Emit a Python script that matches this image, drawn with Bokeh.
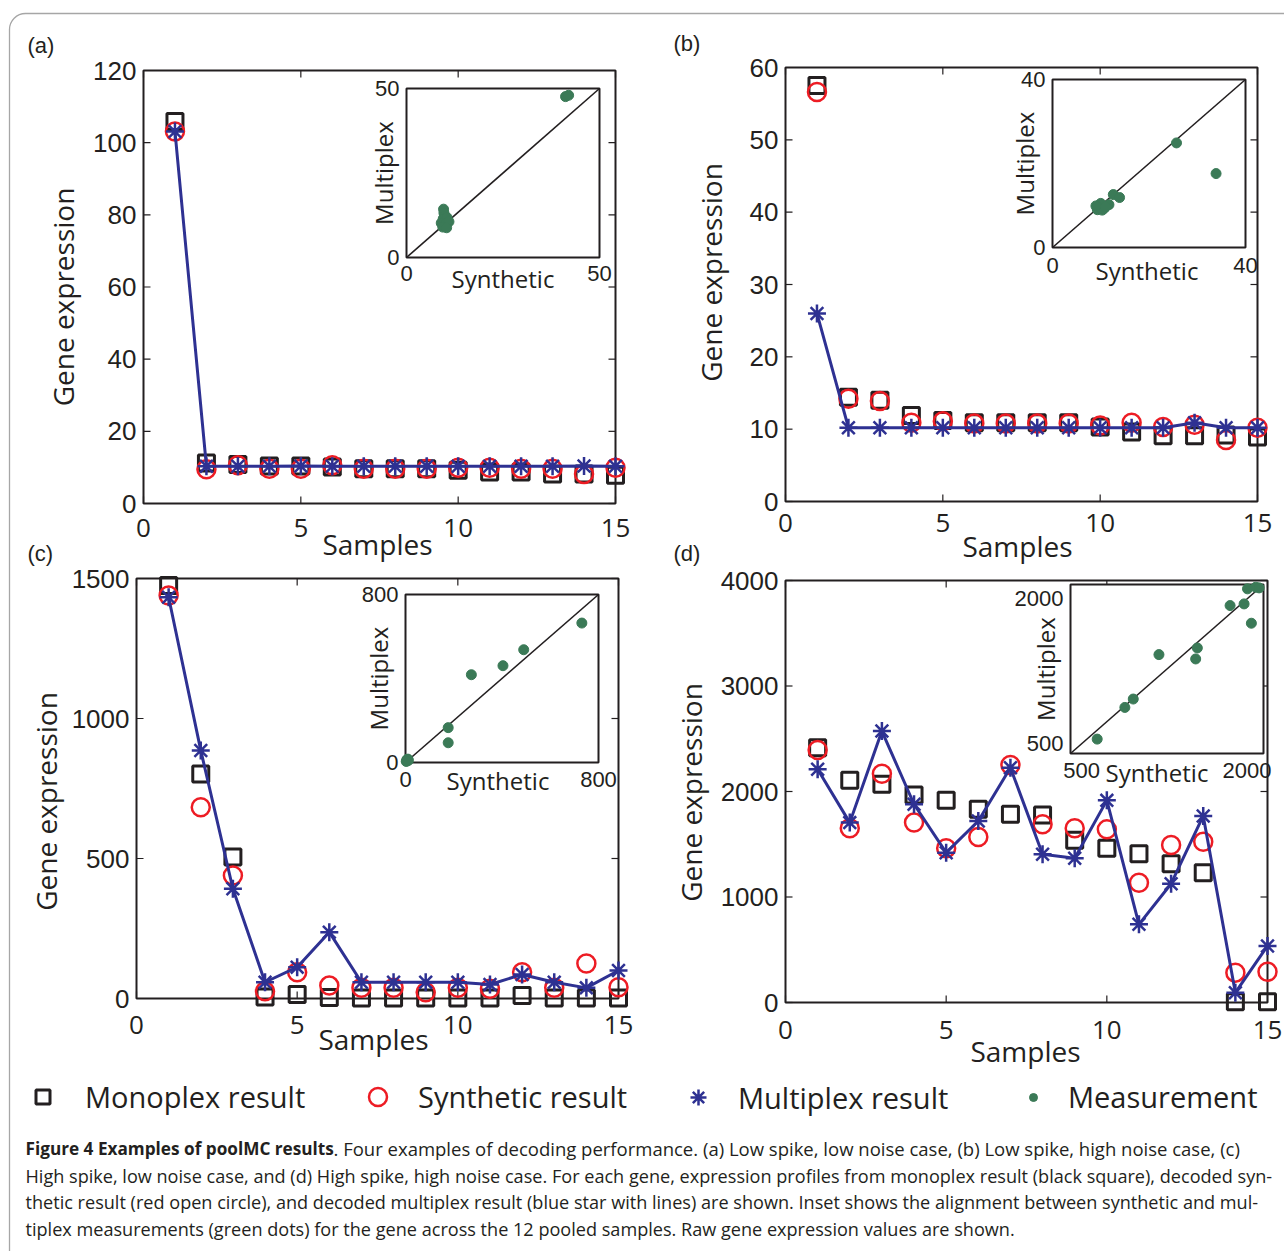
import numpy as np
from bokeh.plotting import figure
from bokeh.models import Range1d, FixedTicker, LinearAxis, Legend, LegendItem
from bokeh.core.properties import value
from bokeh.embed import file_html
from bokeh.resources import INLINE

# ---------------- data ----------------
samples = list(range(1, 16))
x_ticks = [0, 5, 10, 15]
x_lim = [0, 15]

# (a) low spike, low noise
mono_a = [105.9, 11.2, 10.8, 10.4, 10.4, 10.1, 9.6, 9.6, 9.6, 9.2, 8.7, 8.7, 8.2, 8.2, 7.8]
synth_a = [103.1, 9.5, 10.6, 9.6, 9.6, 10.6, 9.6, 9.6, 9.6, 9.9, 9.9, 9.6, 9.6, 8.2, 9.9]
multi_a = [103.1, 10.3, 10.3, 10.3, 10.4, 10.3, 10.3, 10.3, 10.3, 10.3, 10.3, 10.3, 10.3, 10.4, 10.3]
y_lim_a = [0, 120]
y_ticks_a = [0, 20, 40, 60, 80, 100, 120]
ins_a_syn = [9.6, 9.7, 9.8, 9.5, 10.5, 9.0, 10.2, 11.0, 9.4, 10.4, 41.2, 42.0]
ins_a_mul = [14.3, 13.2, 12.2, 11.4, 11.8, 10.2, 10.0, 10.6, 9.0, 8.8, 47.6, 48.0]
ins_a_lim = [0, 50]
ins_a_ticks = [0, 50]

# (b) low spike, high noise
mono_b = [57.5, 14.4, 14.0, 11.9, 11.2, 10.9, 10.9, 10.9, 10.9, 10.3, 9.6, 9.1, 9.1, 9.2, 8.9]
synth_b = [56.6, 14.2, 13.9, 10.9, 11.1, 10.8, 10.8, 10.8, 10.8, 10.5, 10.9, 10.3, 10.6, 8.5, 10.2]
multi_b = [26.0, 10.2, 10.2, 10.2, 10.2, 10.2, 10.2, 10.2, 10.2, 10.2, 10.2, 10.2, 10.9, 10.2, 10.2]
y_lim_b = [0, 60]
y_ticks_b = [0, 10, 20, 30, 40, 50, 60]
ins_b_syn = [25.7, 33.9, 12.6, 13.9, 9.7, 10.0, 11.7, 10.7, 9.3, 10.3, 9.0, 11.0]
ins_b_mul = [24.9, 17.6, 12.6, 11.9, 9.7, 10.5, 10.2, 9.3, 9.0, 8.9, 9.9, 9.7]
ins_b_lim = [0, 40]
ins_b_ticks = [0, 40]

# (c) high spike, low noise
mono_c = [1475, 802, 505, 5, 14, 4, 2, 2, 2, 2, 2, 11, 2, 2, 2]
synth_c = [1439, 683, 439, 26, 94, 46, 38, 38, 22, 38, 35, 94, 38, 125, 40]
multi_c = [1433, 886, 392, 58, 112, 237, 58, 58, 58, 58, 50, 86, 58, 38, 100]
y_lim_c = [0, 1500]
y_ticks_c = [0, 500, 1000, 1500]
ins_c_syn = [10, 5, 8, 12, 6, 177, 177, 273, 404, 490, 731, 3]
ins_c_mul = [16, 8, 12, 10, 14, 166, 94, 418, 461, 537, 664, 5]
ins_c_lim = [0, 800]
ins_c_ticks = [0, 800]

# (d) high spike, high noise
mono_d = [2415, 2106, 2068, 1967, 1916, 1831, 1784, 1777, 1537, 1462, 1411, 1316, 1231, 8, 8]
synth_d = [2393, 1651, 2169, 1705, 1462, 1569, 2251, 1689, 1651, 1641, 1136, 1493, 1524, 283, 292]
multi_d = [2210, 1705, 2573, 1879, 1420, 1720, 2226, 1405, 1367, 1916, 741, 1126, 1768, 93, 536]
y_lim_d = [0, 4000]
y_ticks_d = [0, 1000, 2000, 3000, 4000]
ins_d_syn = [642, 893, 969, 1202, 1535, 1550, 1847, 1974, 2040, 2005, 2080, 2110]
ins_d_mul = [549, 877, 964, 1424, 1379, 1493, 1932, 1949, 1749, 2105, 2122, 2115]
ins_d_lim = [400, 2150]
ins_d_ticks = [500, 2000]

legend_labels = ["Monoplex result", "Synthetic result", "Multiplex result", "Measurement"]

caption_bold = "Figure 4 Examples of poolMC results"
caption_lines = [
    ". Four examples of decoding performance. (a) Low spike, low noise case, (b) Low spike, high noise case, (c)",
    "High spike, low noise case, and (d) High spike, high noise case. For each gene, expression profiles from monoplex result (black square), decoded syn-",
    "thetic result (red open circle), and decoded multiplex result (blue star with lines) are shown. Inset shows the alignment between synthetic and mul-",
    "tiplex measurements (green dots) for the gene across the 12 pooled samples. Raw gene expression values are shown.",
]

# ---------------- style ----------------
BLACK = "#231f20"
RED = "#ed1c24"
BLUE = "#2e3192"
GREEN = "#3b7a57"
FONT = "Open Sans"
NUMFONT = "Liberation Sans"
W, H = 1284, 1251

p = figure(width=W, height=H, x_range=Range1d(0, W), y_range=Range1d(H, 0),
           x_axis_type=None, y_axis_type=None, min_border=0,
           output_backend="svg", toolbar_location=None, tools="")
p.outline_line_color = None
p.background_fill_color = "white"
p.border_fill_color = "white"

# page frame (rounded light border)
p.quad(left=[9], right=[W + 30], top=[13], bottom=[H + 30], fill_color=None,
       line_color="#a6a6a6", line_width=1.3, border_radius=16)

xr_extra = {}
yr_extra = {}


def style_axis(ax, font, size, standoff):
    ax.axis_line_color = None
    ax.major_tick_in = 0
    ax.major_tick_out = 0
    ax.minor_tick_in = 0
    ax.minor_tick_out = 0
    ax.major_label_text_font = font
    ax.major_label_text_font_size = size
    ax.major_label_text_color = BLACK
    ax.major_label_standoff = standoff


def add_panel(k, tag, mono, synth, multi, y_lim, y_ticks,
              ins_syn, ins_mul, ins_lim, ins_ticks, g):
    L, T, R, B = g["box"]
    ppx = (R - L) / (x_lim[1] - x_lim[0])
    ppy = (B - T) / (y_lim[1] - y_lim[0])
    xn, yn = "x" + k, "y" + k
    xr_extra[xn] = Range1d(x_lim[0] - L / ppx, x_lim[1] + (W - R) / ppx)
    yr_extra[yn] = Range1d(y_lim[0] - (H - B) / ppy, y_lim[1] + T / ppy)
    kw = dict(x_range_name=xn, y_range_name=yn)

    # axes (tick labels) fixed on the box edges
    ya = LinearAxis(fixed_location=x_lim[0], ticker=FixedTicker(ticks=y_ticks), **kw)
    style_axis(ya, NUMFONT, "26px", 7)
    p.add_layout(ya, "left")
    xa = LinearAxis(fixed_location=y_lim[0], ticker=FixedTicker(ticks=x_ticks), **kw)
    style_axis(xa, FONT, "26px", g["xstand"])
    p.add_layout(xa, "below")

    # box and inward ticks
    p.quad(left=[x_lim[0]], right=[x_lim[1]], bottom=[y_lim[0]], top=[y_lim[1]],
           fill_color=None, line_color=BLACK, line_width=2, **kw)
    tk = dict(length=7, length_units="screen", line_color=BLACK, line_width=1.2, **kw)
    p.ray(x=x_ticks, y=[y_lim[0]] * len(x_ticks), angle=np.pi / 2, **tk)
    p.ray(x=x_ticks, y=[y_lim[1]] * len(x_ticks), angle=-np.pi / 2, **tk)
    p.ray(x=[x_lim[0]] * len(y_ticks), y=y_ticks, angle=0, **tk)
    p.ray(x=[x_lim[1]] * len(y_ticks), y=y_ticks, angle=np.pi, **tk)

    # data
    r_sq = p.scatter(samples, mono, marker="square", size=16, fill_color=None,
                     line_color=BLACK, line_width=3, **kw)
    r_ci = p.scatter(samples, synth, marker="circle", size=18, fill_color=None,
                     line_color=RED, line_width=2.5, **kw)
    p.line(samples, multi, line_color=BLUE, line_width=3, **kw)
    r_st = p.scatter(samples, multi, marker="asterisk", size=18, line_color=BLUE,
                     line_width=2.5, **kw)

    # texts of the panel
    p.text(x=[x_lim[0]], y=[y_lim[1]], text=[tag], x_offset=g["tag"][0],
           y_offset=g["tag"][1], text_align="left", text_baseline="middle",
           text_font=value(NUMFONT), text_font_size="22px", text_color=BLACK, **kw)
    p.text(x=[(x_lim[0] + x_lim[1]) / 2], y=[y_lim[0]], text=["Samples"],
           x_offset=g["samp"][0], y_offset=g["samp"][1], text_align="center",
           text_baseline="middle", text_font=value(FONT), text_font_size="28px",
           text_color=BLACK, **kw)
    p.text(x=[x_lim[0]], y=[(y_lim[0] + y_lim[1]) / 2], text=["Gene expression"],
           angle=np.pi / 2, x_offset=g["gexp"][0], y_offset=g["gexp"][1],
           text_align="center", text_baseline="middle", text_font=value(FONT),
           text_font_size="28px", text_color=BLACK, **kw)

    # inset
    iL, iT, iR, iB = g["inset"]
    lo, hi = ins_lim
    ippx = (iR - iL) / (hi - lo)
    ippy = (iB - iT) / (hi - lo)
    ixn, iyn = "ix" + k, "iy" + k
    xr_extra[ixn] = Range1d(lo - iL / ippx, hi + (W - iR) / ippx)
    yr_extra[iyn] = Range1d(lo - (H - iB) / ippy, hi + iT / ippy)
    ikw = dict(x_range_name=ixn, y_range_name=iyn)
    p.quad(left=[lo], right=[hi], bottom=[lo], top=[hi], fill_color="white",
           line_color=BLACK, line_width=2, **ikw)
    p.line([lo, hi], [lo, hi], line_color=BLACK, line_width=1.6, **ikw)
    r_dt = p.scatter(ins_syn, ins_mul, marker="circle", size=10, fill_color=GREEN,
                     line_color=GREEN, **ikw)
    iya = LinearAxis(fixed_location=lo, ticker=FixedTicker(ticks=ins_ticks), **ikw)
    style_axis(iya, NUMFONT, "22px", 7)
    p.add_layout(iya, "left")
    ixa = LinearAxis(fixed_location=lo, ticker=FixedTicker(ticks=ins_ticks), **ikw)
    style_axis(ixa, NUMFONT, "22px", g["istand"])
    p.add_layout(ixa, "below")
    p.text(x=[(lo + hi) / 2], y=[lo], text=["Synthetic"], x_offset=g["syn"][0],
           y_offset=g["syn"][1], text_align="center", text_baseline="top",
           text_font=value(FONT), text_font_size="24px", text_color=BLACK, **ikw)
    p.text(x=[lo], y=[(lo + hi) / 2], text=["Multiplex"], angle=np.pi / 2,
           x_offset=g["mul"], text_align="center", text_baseline="alphabetic",
           text_font=value(FONT), text_font_size="24px", text_color=BLACK, **ikw)
    return r_sq, r_ci, r_st, r_dt


geo_a = dict(box=(143, 70, 615, 503), inset=(406, 88, 599, 257), xstand=15,
             istand=8, tag=(-116, -25), samp=(-2, 40), gexp=(-81, 10),
             syn=(0, 4), mul=-23)
geo_b = dict(box=(785, 67, 1257, 501), inset=(1052, 79, 1245, 247), xstand=12,
             istand=10, tag=(-112, -24), samp=(-4, 44), gexp=(-75, -12),
             syn=(-2, 6), mul=-28)
geo_c = dict(box=(136, 578, 618, 998), inset=(405, 594, 598, 762), xstand=17,
             istand=9, tag=(-109, -25), samp=(-4, 40), gexp=(-91, 13),
             syn=(-4, 1), mul=-27)
geo_d = dict(box=(785, 580, 1267, 1002), inset=(1070, 584, 1263, 753), xstand=18,
             istand=9, tag=(-112, -27), samp=(-1, 48), gexp=(-95, 1),
             syn=(-10, 2), mul=-25)

ra = add_panel("a", "(a)", mono_a, synth_a, multi_a, y_lim_a, y_ticks_a,
               ins_a_syn, ins_a_mul, ins_a_lim, ins_a_ticks, geo_a)
add_panel("b", "(b)", mono_b, synth_b, multi_b, y_lim_b, y_ticks_b,
          ins_b_syn, ins_b_mul, ins_b_lim, ins_b_ticks, geo_b)
add_panel("c", "(c)", mono_c, synth_c, multi_c, y_lim_c, y_ticks_c,
          ins_c_syn, ins_c_mul, ins_c_lim, ins_c_ticks, geo_c)
add_panel("d", "(d)", mono_d, synth_d, multi_d, y_lim_d, y_ticks_d,
          ins_d_syn, ins_d_mul, ins_d_lim, ins_d_ticks, geo_d)

p.extra_x_ranges = xr_extra
p.extra_y_ranges = yr_extra

# ---------------- legend ----------------
# (left, bottom) screen position, glyph box, label standoff
leg_specs = [(25, 135, 35, 25), (355, 132, 45, 18), (678, 134, 40, 20),
             (1023, 135, 20, 25)]
for lab, rr, (vx, vy, gw, st) in zip(legend_labels, ra, leg_specs):
    lg = Legend(items=[LegendItem(label=lab, renderers=[rr])], location=(vx, vy),
                padding=0, margin=0, glyph_width=gw, glyph_height=gw,
                label_standoff=st, border_line_color=None,
                background_fill_alpha=0, label_text_font=FONT,
                label_text_font_size="29px", label_text_color=BLACK)
    p.add_layout(lg)

# ---------------- caption ----------------
cap_y = [1148, 1175, 1201, 1228]
p.text(x=[25], y=[cap_y[0]], text=[caption_bold], text_font=value(FONT),
       text_font_size="17.2px", text_font_style="bold", text_baseline="middle",
       text_color=BLACK)
p.text(x=[333], y=[cap_y[0]], text=caption_lines[:1], text_font=value(FONT),
       text_font_size="18.5px", text_baseline="middle", text_color=BLACK)
p.text(x=[25, 25, 25], y=cap_y[1:], text=caption_lines[1:], text_font=value(FONT),
       text_font_size="18.1px", text_baseline="middle", text_color=BLACK)

open("out.html", "w").write(file_html(p, INLINE))
